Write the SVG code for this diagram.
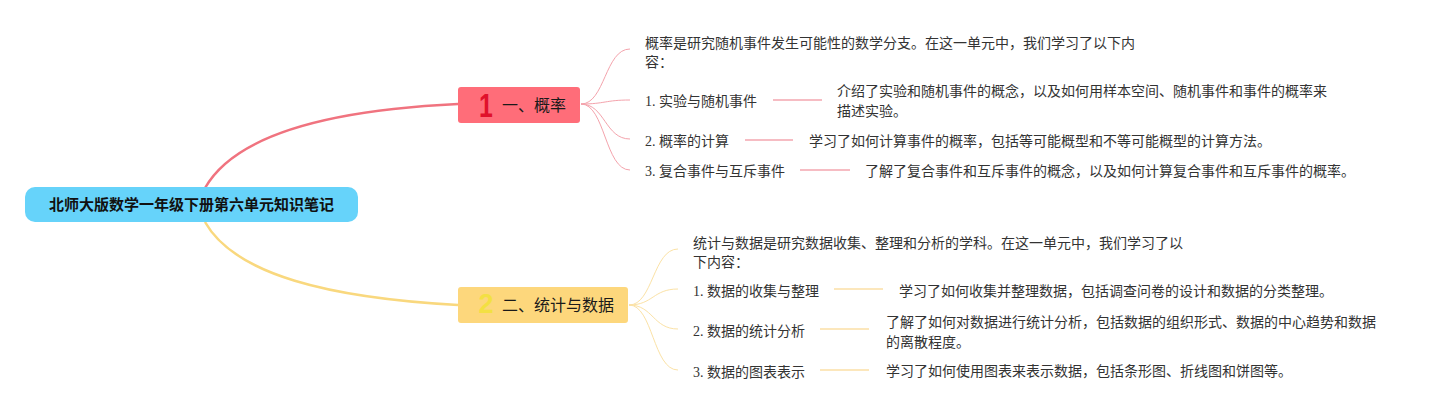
<svg xmlns="http://www.w3.org/2000/svg" width="1445" height="410" viewBox="0 0 1445 410">
<style>
.t{font-family:"Liberation Serif","Noto Sans CJK SC",serif;font-size:14px;fill:#333333}
.n{font-family:"Noto Sans CJK SC",sans-serif;font-size:16px;fill:#1a1a1a}
.r{font-family:"Noto Sans CJK SC",sans-serif;font-size:15px;font-weight:bold;fill:#111111}
.num{font-family:"Liberation Sans",sans-serif;font-weight:bold}
.mr{fill:none;stroke:#F0737F;stroke-width:2.5}
.my{fill:none;stroke:#F9D87E;stroke-width:2.5}
.br{fill:none;stroke:#F4A3AC;stroke-width:1}
.by{fill:none;stroke:#FBE2A6;stroke-width:1}
.lr{stroke:#F6BCC3;stroke-width:2}
.ly{stroke:#FCE7BC;stroke-width:2}
</style>
<rect width="1445" height="410" fill="#ffffff"/>
<g id="connectors">
<path class="mr" d="M205,188 C235,135 330,110 458,104"/>
<path class="my" d="M205,222 C235,275 330,298 458,305"/>
<path class="br" d="M581,104 C605,104 605,49 630,49"/>
<path class="br" d="M581,104 C605,104 605,100 630,100"/>
<path class="br" d="M581,104 C605,104 605,139 630,139"/>
<path class="br" d="M581,104 C605,104 605,170 630,170"/>
<path class="by" d="M629,305 C653,305 653,249 678,249"/>
<path class="by" d="M629,305 C653,305 653,289 678,289"/>
<path class="by" d="M629,305 C653,305 653,329 678,329"/>
<path class="by" d="M629,305 C653,305 653,370 678,370"/>
<line class="lr" x1="773" y1="100" x2="822" y2="100"/>
<line class="lr" x1="745" y1="140" x2="793" y2="140"/>
<line class="lr" x1="800" y1="170" x2="850" y2="170"/>
<line class="ly" x1="834" y1="289" x2="883" y2="289"/>
<line class="ly" x1="820" y1="329" x2="869" y2="329"/>
<line class="ly" x1="820" y1="370" x2="869" y2="370"/>
</g>
<g id="root">
<rect x="25" y="187" width="333" height="35" rx="10" fill="#66D3FA"/>
<text class="r" x="191.5" y="210" text-anchor="middle">北师大版数学一年级下册第六单元知识笔记</text>
</g>
<g id="node1">
<rect x="458" y="87" width="122" height="36" rx="3" fill="#FF6D79"/>
<text class="num" transform="translate(486,0) scale(0.75,1)" x="0" y="117" text-anchor="middle" font-size="33" fill="#E0112B">1</text>
<text class="n" x="502" y="111">一、概率</text>
</g>
<g id="node2">
<rect x="458" y="287" width="170" height="36" rx="3" fill="#FDD77C"/>
<text class="num" x="486" y="313" text-anchor="middle" font-size="27" fill="#F3E043">2</text>
<text class="n" x="502" y="311">二、统计与数据</text>
</g>
<g id="n1-intro"><text class="t" x="645" y="48">概率是研究随机事件发生可能性的数学分支。在这一单元中，我们学习了以下内</text><text class="t" x="645" y="67">容：</text></g>
<g id="n1-1"><text class="t" x="645" y="106">1. 实验与随机事件</text></g>
<g id="n1-1d"><text class="t" x="837" y="96">介绍了实验和随机事件的概念，以及如何用样本空间、随机事件和事件的概率来</text><text class="t" x="837" y="116">描述实验。</text></g>
<g id="n1-2"><text class="t" x="645" y="146">2. 概率的计算</text></g>
<g id="n1-2d"><text class="t" x="809" y="146">学习了如何计算事件的概率，包括等可能概型和不等可能概型的计算方法。</text></g>
<g id="n1-3"><text class="t" x="645" y="176">3. 复合事件与互斥事件</text></g>
<g id="n1-3d"><text class="t" x="865" y="176">了解了复合事件和互斥事件的概念，以及如何计算复合事件和互斥事件的概率。</text></g>
<g id="n2-intro"><text class="t" x="693" y="248">统计与数据是研究数据收集、整理和分析的学科。在这一单元中，我们学习了以</text><text class="t" x="693" y="267">下内容：</text></g>
<g id="n2-1"><text class="t" x="693" y="296">1. 数据的收集与整理</text></g>
<g id="n2-1d"><text class="t" x="899" y="296">学习了如何收集并整理数据，包括调查问卷的设计和数据的分类整理。</text></g>
<g id="n2-2"><text class="t" x="693" y="336">2. 数据的统计分析</text></g>
<g id="n2-2d"><text class="t" x="886" y="327">了解了如何对数据进行统计分析，包括数据的组织形式、数据的中心趋势和数据</text><text class="t" x="886" y="347">的离散程度。</text></g>
<g id="n2-3"><text class="t" x="693" y="377">3. 数据的图表表示</text></g>
<g id="n2-3d"><text class="t" x="886" y="376">学习了如何使用图表来表示数据，包括条形图、折线图和饼图等。</text></g>
</svg>
